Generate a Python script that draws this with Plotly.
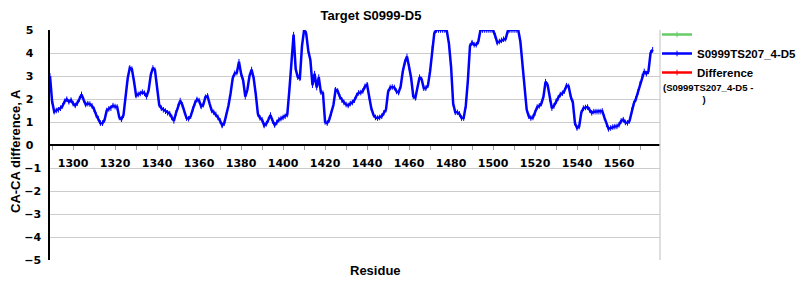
import plotly.graph_objects as go

# ---- data ----
title_text = "Target S0999-D5"
model_name = "S0999TS207_4-D5"
residue_start = 1289
ca_ca_diff = [
    3.0, 1.9, 1.45, 1.5, 1.53, 1.6, 1.7, 1.9, 1.99, 1.88,
    1.95, 1.8, 1.72, 1.82, 2.0, 2.2, 1.97, 1.76, 1.8, 1.78,
    1.7, 1.55, 1.3, 1.15, 0.95, 0.95, 1.1, 1.5, 1.57, 1.6,
    1.71, 1.67, 1.65, 1.2, 1.12, 1.3, 2.2, 2.9, 3.35, 3.3,
    2.77, 2.15, 2.2, 2.24, 2.3, 2.25, 2.1, 2.4, 3.05, 3.35,
    3.25, 2.5, 1.75, 1.6, 1.53, 1.47, 1.4, 1.36, 1.2, 1.05,
    1.39, 1.68, 1.93, 1.75, 1.45, 1.17, 1.14, 1.25, 1.55, 1.82,
    1.98, 1.93, 1.68, 1.75, 2.08, 2.13, 1.8, 1.5, 1.42, 1.33,
    1.2, 1.05, 0.85, 0.95, 1.3, 1.72, 2.25, 2.9, 3.12, 3.15,
    3.62, 3.1, 2.8, 2.1, 2.4, 3.0, 3.28, 2.9, 2.2, 1.35,
    1.18, 1.1, 0.85, 0.92, 1.1, 1.3, 1.05, 0.87, 0.98, 1.1,
    1.15, 1.2, 1.25, 1.32, 2.4, 3.8, 4.8, 3.3, 2.95, 2.9,
    4.3, 5.0, 4.85, 4.1, 3.7, 2.6, 3.1, 2.5, 2.95, 2.3,
    2.25, 1.0, 0.95, 1.1, 1.4, 1.75, 2.4, 2.35, 2.1, 1.95,
    1.85, 1.76, 1.72, 1.8, 1.85, 1.95, 2.15, 2.27, 2.28, 2.35,
    2.55, 2.62, 2.1, 1.6, 1.32, 1.2, 1.17, 1.2, 1.25, 1.4,
    1.54, 2.3, 2.5, 2.52, 2.5, 2.33, 2.28, 2.55, 3.2, 3.6,
    3.85, 3.4, 2.9, 2.12, 2.05, 2.5, 2.95, 2.85, 2.47, 2.47,
    2.6, 3.2, 4.2, 4.85, 5.0, 5.0, 5.0, 5.0, 5.0, 4.95,
    4.4, 3.4, 1.8, 1.42, 1.42, 1.35, 1.17, 1.17, 1.7, 2.8,
    4.3, 4.45, 4.36, 4.36, 4.5, 5.0, 5.0, 5.0, 5.0, 5.0,
    5.0, 5.0, 4.75, 4.45, 4.5, 4.55, 4.6, 4.62, 4.95, 5.0,
    5.0, 5.0, 5.0, 5.0, 4.5, 3.4, 2.4, 1.54, 1.25, 1.17,
    1.2, 1.4, 1.65, 1.7, 1.8, 2.1, 2.75, 2.6, 2.0, 1.6,
    1.7, 1.9, 2.05, 2.19, 2.25, 2.35, 2.58, 2.55, 2.1, 1.85,
    0.95, 0.74, 0.8, 1.4, 1.6, 1.63, 1.65, 1.52, 1.4, 1.45,
    1.45, 1.45, 1.45, 1.48, 1.2, 0.9, 0.7, 0.74, 0.78, 0.8,
    0.81, 0.88, 1.05, 1.1, 0.98, 0.96, 1.05, 1.5, 1.8, 2.0,
    2.3, 2.65, 2.98, 3.2, 3.1, 3.2, 4.0, 4.14,
]
residues = list(range(residue_start, residue_start + len(ca_ca_diff)))
# the empty series of the reference (no visible values)
reference_x = [residue_start]
reference_y = [None]
difference_x = [residue_start]
difference_y = [None]
y_ticks = [5, 4, 3, 2, 1, 0, -1, -2, -3, -4, -5]
y_tick_labels = ["5\u00a0\u00a0", "4\u00a0\u00a0", "3\u00a0\u00a0", "2\u00a0\u00a0", "1\u00a0\u00a0", "0\u00a0\u00a0",
                 "\u22121", "\u22122", "\u22123", "\u22124", "\u22125"]

BLUE = "#0000FF"
GREEN = "#66CC66"
RED = "#FF0000"

fig = go.Figure()
fig.add_trace(go.Scatter(x=reference_x, y=reference_y, name=" ", mode="lines+markers",
                         line=dict(color=GREEN, width=2.5),
                         marker=dict(symbol="line-ns", size=4, color=GREEN, line=dict(color=GREEN, width=1))))
fig.add_trace(go.Scatter(x=residues, y=ca_ca_diff, name=model_name, mode="lines+markers",
                         line=dict(color=BLUE, width=2.5),
                         marker=dict(symbol="line-ns", size=4, color=BLUE, line=dict(color=BLUE, width=1))))
fig.add_trace(go.Scatter(x=difference_x, y=difference_y, name="Difference", mode="lines+markers",
                         line=dict(color=RED, width=2.5),
                         marker=dict(symbol="line-ns", size=4, color=RED, line=dict(color=RED, width=1))))

W, H = 800, 300
L, R, T, B = 50, 140, 30, 40
pw, ph = W - L - R, H - T - B

def px(x):
    return (x - L) / pw

def py(y):
    return (H - B - y) / ph

fig.update_layout(
    width=W, height=H,
    margin=dict(l=L, r=R, t=T, b=B, pad=0, autoexpand=False),
    paper_bgcolor="white", plot_bgcolor="white",
    title=dict(text=title_text, x=371 / W, xref="container", xanchor="center",
               y=1 - 15 / H, yref="container", yanchor="middle",
               font=dict(family="Liberation Sans", size=13, color="black", weight="bold")),
    showlegend=True,
    legend=dict(x=px(657), y=py(20), xanchor="left", yanchor="top",
                font=dict(family="Liberation Sans", size=11.5, color="black", weight="bold"),
                bgcolor="rgba(0,0,0,0)", borderwidth=0, tracegroupgap=0),
    xaxis=dict(range=[1289, 1579.5], anchor="free", position=0.5,
               showgrid=False, zeroline=False,
               showline=True, linecolor="black", linewidth=1.5,
               tick0=1300, dtick=20, ticks="outside", ticklen=4, tickcolor="#999999", tickwidth=1,
               ticklabelstandoff=4,
               minor=dict(dtick=10, tick0=1300, ticks="outside", ticklen=4, tickcolor="#999999", tickwidth=1),
               tickfont=dict(family="DejaVu Sans", size=11, color="black", weight="bold")),
    yaxis=dict(range=[-5, 5], tickvals=y_ticks, ticktext=y_tick_labels,
               showgrid=True, gridcolor="#CCCCCC", gridwidth=1.3,
               zeroline=False, showline=True, linecolor="black", linewidth=1.5,
               ticks="", ticklabelstandoff=5,
               tickfont=dict(family="DejaVu Sans", size=11, color="black", weight="bold")),
    shapes=[dict(type="line", xref="paper", yref="paper", x0=1, x1=1, y0=0, y1=1,
                 line=dict(color="#CCCCCC", width=1.3))],
    annotations=[
        dict(text="CA-CA difference, A", xref="paper", yref="paper", x=px(15), y=py(151),
             textangle=-90, showarrow=False, xanchor="center", yanchor="middle",
             font=dict(family="Liberation Sans", size=13, color="black", weight="bold")),
        dict(text="Residue", xref="paper", yref="paper", x=px(375), y=py(270),
             showarrow=False, xanchor="center", yanchor="middle",
             font=dict(family="Liberation Sans", size=13, color="black", weight="bold")),
        dict(text="(" + model_name + " -<br>" + "\u00a0" * 15 + ")",
             xref="paper", yref="paper", x=px(661), y=py(93),
             showarrow=False, xanchor="left", yanchor="middle", align="left",
             font=dict(family="Liberation Sans", size=9.5, color="black", weight="bold")),
    ],
)

fig.write_html("out.html")
